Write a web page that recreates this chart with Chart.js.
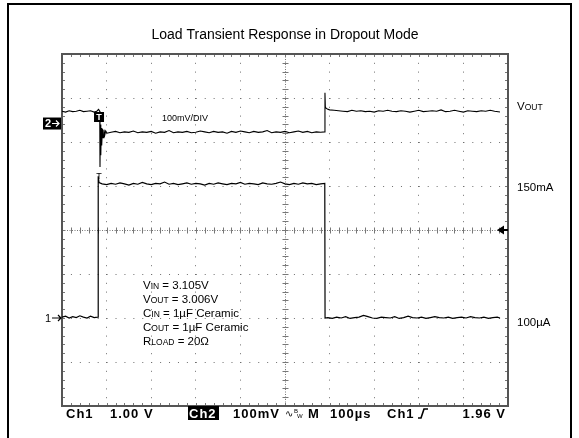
<!DOCTYPE html>
<html>
<head>
<meta charset="utf-8">
<title>Load Transient Response in Dropout Mode</title>
<script src="https://cdn.jsdelivr.net/npm/chart.js@4.4.1/dist/chart.umd.min.js"></script>
<style>
  html, body { margin: 0; padding: 0; background: #fff; }
  #scope { display: block; }
</style>
</head>
<body>
<canvas id="scope" width="579" height="438"></canvas>
<script>
// time in microseconds (100us/div), trace levels in screen divisions (-4..4)
const timeStep = 100;
const levelStep = 1;

// Ch1: load current (100uA -> 150mA -> 100uA)
const ch1Time = [
  0, 8, 16, 24, 32, 40, 48, 56, 64, 72,
  80, 80.8, 81.2, 83, 90, 100, 110, 120, 130, 140,
  150, 160, 170, 180, 190, 200, 210, 220, 230, 240,
  250, 260, 270, 280, 290, 300, 310, 320, 330, 340,
  350, 360, 370, 380, 390, 400, 410, 420, 430, 440,
  450, 460, 470, 480, 490, 500, 510, 520, 530, 540,
  550, 560, 570, 580, 589.2, 589.8, 596, 606, 616, 626,
  636, 646, 656, 666, 676, 686, 696, 706, 716, 726,
  736, 746, 756, 766, 776, 786, 796, 806, 816, 826,
  836, 846, 856, 866, 876, 886, 896, 906, 916, 926,
  936, 946, 956, 966, 976, 982
];
const ch1Level = [
  -1.98, -1.96, -2.00, -1.97, -1.99, -1.95, -1.98, -2.00, -1.96, -1.99,
  -1.98, -1.98, 1.22, 1.08, 1.05, 1.03, 1.06, 1.04, 1.07, 1.05,
  1.02, 1.06, 1.04, 1.08, 1.05, 1.03, 1.06, 1.05, 1.09, 1.04,
  1.06, 1.03, 1.05, 1.07, 1.04, 1.06, 1.05, 1.02, 1.06, 1.04,
  1.07, 1.05, 1.03, 1.06, 1.05, 1.08, 1.04, 1.06, 1.05, 1.03,
  1.07, 1.05, 1.04, 1.06, 1.09, 1.05, 1.03, 1.06, 1.04, 1.07,
  1.05, 1.06, 1.03, 1.05, 1.06, -2.00, -1.99, -2.01, -1.98, -2.00,
  -1.97, -2.01, -1.99, -1.98, -1.94, -1.97, -2.00, -2.01, -1.98, -1.99,
  -2.00, -1.97, -2.01, -1.99, -1.96, -1.99, -2.00, -1.98, -2.01, -1.99,
  -1.97, -1.99, -2.00, -1.98, -2.01, -1.99, -1.98, -2.00, -1.97, -1.99,
  -2.00, -1.98, -2.01, -1.99, -1.98, -2.00
];

// Ch2: VOUT, 100mV/div, AC
const ch2Time = [
  0, 8, 16, 24, 32, 40, 48, 56, 64, 72,
  78, 82, 84.6, 85.2, 86, 87, 88, 89, 90.5, 92,
  94, 96, 98, 101, 110, 120, 130, 140, 150, 160,
  170, 180, 190, 200, 210, 220, 230, 240, 250, 260,
  270, 280, 290, 300, 310, 320, 330, 340, 350, 360,
  370, 380, 390, 400, 410, 420, 430, 440, 450, 460,
  470, 480, 490, 500, 510, 520, 530, 540, 550, 560,
  570, 580, 589, 589.6, 590.4, 592, 595, 600, 610, 620,
  630, 640, 650, 660, 670, 680, 690, 700, 710, 720,
  730, 740, 750, 760, 770, 780, 790, 800, 810, 820,
  830, 840, 850, 860, 870, 880, 890, 900, 910, 920,
  930, 940, 950, 960, 970, 982
];
const ch2Level = [
  2.70, 2.68, 2.71, 2.69, 2.70, 2.72, 2.69, 2.70, 2.71, 2.68,
  2.70, 2.74, 2.70, 1.43, 2.40, 1.70, 2.32, 1.92, 2.30, 2.10,
  2.28, 2.16, 2.25, 2.20, 2.22, 2.24, 2.21, 2.23, 2.22, 2.25,
  2.21, 2.23, 2.22, 2.24, 2.20, 2.23, 2.22, 2.26, 2.21, 2.23,
  2.22, 2.24, 2.21, 2.22, 2.25, 2.23, 2.21, 2.24, 2.22, 2.23,
  2.20, 2.24, 2.22, 2.25, 2.23, 2.21, 2.24, 2.22, 2.23, 2.26,
  2.21, 2.23, 2.22, 2.24, 2.21, 2.23, 2.25, 2.22, 2.24, 2.21,
  2.23, 2.22, 2.23, 3.12, 2.80, 2.77, 2.75, 2.73, 2.72, 2.71,
  2.70, 2.69, 2.72, 2.70, 2.71, 2.69, 2.70, 2.68, 2.71, 2.70,
  2.72, 2.70, 2.69, 2.71, 2.70, 2.68, 2.70, 2.72, 2.69, 2.70,
  2.71, 2.70, 2.73, 2.69, 2.70, 2.72, 2.70, 2.68, 2.71, 2.70,
  2.69, 2.71, 2.70, 2.72, 2.70, 2.68
];

// scope markers: channel ground refs, trigger position / level
const ch1Ref = -2.0;
const ch2Ref = 2.42;
const trigTime = 83;
const trigLevel = 0;

// labels
const rightLabels = [
  { big: 'V', small: 'OUT', rest: '', level: 2.82 },
  { big: '', small: '', rest: '150mA', level: 0.98 },
  { big: '', small: '', rest: '100\u00b5A', level: -2.09 }
];
const conditions = [
  ['V', 'IN', ' = 3.105V'],
  ['V', 'OUT', ' = 3.006V'],
  ['C', 'IN', ' = 1\u00b5F Ceramic'],
  ['C', 'OUT', ' = 1\u00b5F Ceramic'],
  ['R', 'LOAD', ' = 20\u03a9']
];

const SANS = "'Liberation Sans', Arial, sans-serif";

function capsLabel(ctx, x, y, big, small, rest, size) {
  ctx.textBaseline = 'alphabetic';
  ctx.textAlign = 'left';
  ctx.font = size + 'px ' + SANS;
  ctx.fillText(big, x, y);
  x += ctx.measureText(big).width;
  ctx.font = (size * 0.74).toFixed(1) + 'px ' + SANS;
  ctx.fillText(small, x, y);
  x += ctx.measureText(small).width;
  ctx.font = size + 'px ' + SANS;
  ctx.fillText(rest, x, y);
}

const scopeDecor = {
  id: 'scopeDecor',
  beforeDatasetsDraw(chart) {
    const { ctx, chartArea: a, scales: { x, y } } = chart;
    const cx = Math.round(x.getPixelForValue(500)) + 0.5;
    const cy = Math.round(y.getPixelForValue(0)) + 0.5;
    const dx = (a.right - a.left) / 50;
    const dy = (a.bottom - a.top) / 40;
    ctx.save();
    ctx.strokeStyle = '#777';
    ctx.lineWidth = 1;
    // center cross, dense dots
    ctx.setLineDash([1, 1.5]);
    ctx.beginPath();
    ctx.moveTo(cx, a.top); ctx.lineTo(cx, a.bottom);
    ctx.moveTo(a.left, cy); ctx.lineTo(a.right, cy);
    ctx.stroke();
    ctx.setLineDash([]);
    ctx.beginPath();
    for (let k = 1; k < 50; k++) {
      const px = Math.round(a.left + k * dx) + 0.5;
      ctx.moveTo(px, cy - 3); ctx.lineTo(px, cy + 3);
      ctx.moveTo(px, a.top); ctx.lineTo(px, a.top + 3);
      ctx.moveTo(px, a.bottom - 3); ctx.lineTo(px, a.bottom);
    }
    for (let k = 1; k < 40; k++) {
      const py = Math.round(a.top + k * dy) + 0.5;
      ctx.moveTo(cx - 3, py); ctx.lineTo(cx + 3, py);
      ctx.moveTo(a.left, py); ctx.lineTo(a.left + 3, py);
      ctx.moveTo(a.right - 3, py); ctx.lineTo(a.right, py);
    }
    ctx.stroke();
    // plot frame
    ctx.strokeStyle = '#555';
    ctx.lineWidth = 2;
    ctx.strokeRect(a.left, a.top, a.right - a.left, a.bottom - a.top);
    ctx.restore();
  },
  afterDraw(chart) {
    const { ctx, chartArea: a, scales: { x, y } } = chart;
    ctx.save();
    // outer figure frame
    ctx.strokeStyle = '#000';
    ctx.lineWidth = 2;
    ctx.strokeRect(8, 4, 563, 450);

    // title
    ctx.fillStyle = '#000';
    ctx.font = '14px ' + SANS;
    ctx.textAlign = 'center';
    ctx.textBaseline = 'middle';
    ctx.fillText('Load Transient Response in Dropout Mode', 285, 35);

    // volts/div note
    ctx.font = '9px ' + SANS;
    ctx.textAlign = 'left';
    ctx.fillText('100mV/DIV', 162, 119);

    // Ch2 reference marker (inverted box)
    const r2 = y.getPixelForValue(ch2Ref);
    ctx.fillRect(43, r2 - 6, 18, 12);
    ctx.fillStyle = '#fff';
    ctx.font = 'bold 11px ' + SANS;
    ctx.textBaseline = 'middle';
    ctx.fillText('2', 45, r2 + 0.5);
    ctx.strokeStyle = '#fff';
    ctx.lineWidth = 1.2;
    ctx.beginPath();
    ctx.moveTo(52, r2); ctx.lineTo(59, r2);
    ctx.moveTo(56, r2 - 3); ctx.lineTo(59, r2); ctx.lineTo(56, r2 + 3);
    ctx.stroke();

    // Ch1 reference marker
    const r1 = y.getPixelForValue(ch1Ref);
    ctx.fillStyle = '#000';
    ctx.strokeStyle = '#000';
    ctx.font = '11px ' + SANS;
    ctx.fillText('1', 45, r1 + 0.5);
    ctx.beginPath();
    ctx.moveTo(52, r1); ctx.lineTo(61, r1);
    ctx.moveTo(58, r1 - 3); ctx.lineTo(61, r1); ctx.lineTo(58, r1 + 3);
    ctx.stroke();

    // trigger position marker
    const tx = x.getPixelForValue(trigTime);
    ctx.fillRect(tx - 5, 112, 10, 10);
    ctx.fillStyle = '#fff';
    ctx.font = 'bold 9px ' + SANS;
    ctx.textAlign = 'center';
    ctx.fillText('T', tx, 117.5);
    ctx.fillStyle = '#000';
    ctx.font = '9px ' + SANS;
    ctx.fillText('T', tx, 177);

    // trigger level arrow on right edge
    const ty = y.getPixelForValue(trigLevel);
    ctx.beginPath();
    ctx.moveTo(a.right - 11, ty);
    ctx.lineTo(a.right - 4, ty - 4.5);
    ctx.lineTo(a.right - 4, ty + 4.5);
    ctx.closePath();
    ctx.fill();
    ctx.fillRect(a.right - 5, ty - 1, 5, 2);

    // right side channel labels
    rightLabels.forEach(l => {
      capsLabel(ctx, a.right + 9, y.getPixelForValue(l.level) + 4, l.big, l.small, l.rest, 11.5);
    });

    // test conditions
    conditions.forEach((c, i) => {
      capsLabel(ctx, 143, 289 + i * 14, c[0], c[1], c[2], 11.5);
    });

    // status line
    const sy = 418;
    ctx.font = 'bold 13px ' + SANS;
    ctx.textBaseline = 'alphabetic';
    ctx.textAlign = 'left';
    ctx.letterSpacing = '1px';
    ctx.fillText('Ch1', 66, sy);
    ctx.fillText('1.00 V', 110, sy);
    ctx.fillRect(188, 406, 31, 14);
    ctx.fillStyle = '#fff';
    ctx.fillText('Ch2', 189, sy);
    ctx.fillStyle = '#000';
    ctx.fillText('100mV', 233, sy);
    ctx.fillText('M', 308, sy);
    ctx.fillText('100\u00b5s', 330, sy);
    ctx.fillText('Ch1', 387, sy);
    ctx.textAlign = 'right';
    ctx.fillText('1.96 V', 506, sy);
    ctx.letterSpacing = '0px';
    ctx.textAlign = 'left';
    ctx.font = '10px ' + SANS;
    ctx.fillText('\u223f', 285, sy - 1);
    ctx.font = '6px ' + SANS;
    ctx.fillText('B', 294, sy - 5);
    ctx.fillText('W', 297, sy);
    // rising edge symbol
    ctx.lineWidth = 1.6;
    ctx.beginPath();
    ctx.moveTo(418, sy); ctx.lineTo(421, sy);
    ctx.lineTo(424, sy - 9); ctx.lineTo(428, sy - 9);
    ctx.stroke();
    ctx.restore();
  }
};

const ch1Data = ch1Time.map((t, i) => ({ x: t, y: ch1Level[i] }));
const ch2Data = ch2Time.map((t, i) => ({ x: t, y: ch2Level[i] }));

const gridStyle = { color: '#6e6e6e', lineWidth: 1, drawTicks: false };

new Chart(document.getElementById('scope').getContext('2d'), {
  type: 'line',
  data: {
    datasets: [
      { label: 'Ch1', data: ch1Data, borderColor: '#000', borderWidth: 1.2, pointRadius: 0, tension: 0 },
      { label: 'Ch2', data: ch2Data, borderColor: '#000', borderWidth: 1.1, pointRadius: 0, tension: 0 }
    ]
  },
  options: {
    responsive: false,
    animation: false,
    devicePixelRatio: 1,
    layout: { padding: { left: 62, top: 54, right: 71, bottom: 32 } },
    plugins: {
      legend: { display: false },
      tooltip: { enabled: false },
      title: { display: false }
    },
    scales: {
      x: {
        type: 'linear', min: 0, max: 1000,
        ticks: { display: false, stepSize: timeStep },
        grid: gridStyle,
        border: { display: false, dash: [1, 7.8] }
      },
      y: {
        type: 'linear', min: -4, max: 4,
        ticks: { display: false, stepSize: levelStep },
        grid: gridStyle,
        border: { display: false, dash: [1, 7.92] }
      }
    }
  },
  plugins: [scopeDecor]
});
</script>
</body>
</html>
